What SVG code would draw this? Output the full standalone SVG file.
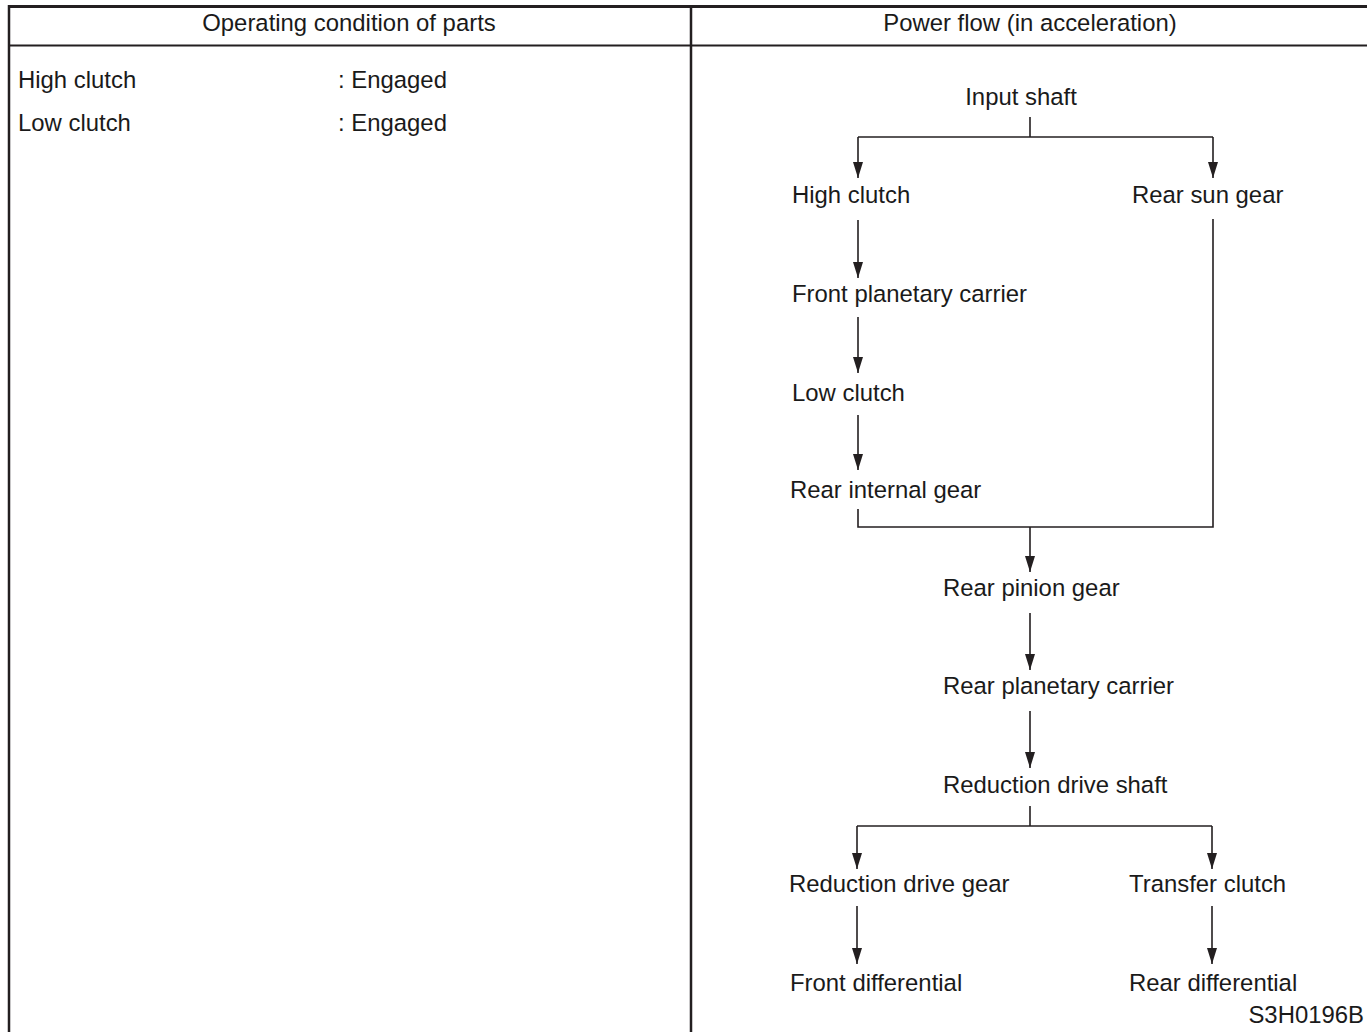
<svg xmlns="http://www.w3.org/2000/svg" width="1367" height="1032" viewBox="0 0 1367 1032">
<defs>
<style>
text{font-family:"Liberation Sans",Arial,sans-serif;font-size:23.9px;fill:#1a1a1a}
.b{stroke:#231f20;fill:none}
.c{stroke:#231f20;stroke-width:1.6;fill:none}
.mid{text-anchor:middle}
</style>
<marker id="ah" markerWidth="16" markerHeight="10" refX="16" refY="5" orient="auto" markerUnits="userSpaceOnUse" viewBox="0 0 16 10">
<path d="M0,0 L16,5 L0,10 Z" fill="#231f20"/>
</marker>
</defs>
<rect width="1367" height="1032" fill="#fff"/>
<g id="table">
<line class="b" x1="8" y1="6.5" x2="1367" y2="6.5" stroke-width="3"/>
<line class="b" x1="8" y1="45.5" x2="1367" y2="45.5" stroke-width="2"/>
<line class="b" x1="9" y1="5" x2="9" y2="1032" stroke-width="2.5"/>
<line class="b" x1="691" y1="5" x2="691" y2="1032" stroke-width="2.5"/>
<text class="mid" x="349" y="31">Operating condition of parts</text>
<text class="mid" x="1030" y="31">Power flow (in acceleration)</text>
</g>
<g id="conditions">
<text x="18" y="88">High clutch</text>
<text x="338" y="88">: Engaged</text>
<text x="18" y="131">Low clutch</text>
<text x="338" y="131">: Engaged</text>
</g>
<g id="connectors">
<path class="c" d="M1030,117 V137"/>
<path class="c" d="M858,137 H1213"/>
<path class="c" d="M858,137 V178" marker-end="url(#ah)"/>
<path class="c" d="M1213,137 V178" marker-end="url(#ah)"/>
<path class="c" d="M858,220 V278" marker-end="url(#ah)"/>
<path class="c" d="M858,317 V373" marker-end="url(#ah)"/>
<path class="c" d="M858,415 V470" marker-end="url(#ah)"/>
<path class="c" d="M858,509 V527 H1213 V219"/>
<path class="c" d="M1030,527 V572" marker-end="url(#ah)"/>
<path class="c" d="M1030,613 V670" marker-end="url(#ah)"/>
<path class="c" d="M1030,711 V768" marker-end="url(#ah)"/>
<path class="c" d="M1030,806 V826"/>
<path class="c" d="M857,826 H1212"/>
<path class="c" d="M857,826 V869" marker-end="url(#ah)"/>
<path class="c" d="M1212,826 V869" marker-end="url(#ah)"/>
<path class="c" d="M857,906 V964" marker-end="url(#ah)"/>
<path class="c" d="M1212,906 V964" marker-end="url(#ah)"/>
</g>
<g id="n-input"><text class="mid" x="1021" y="105">Input shaft</text></g>
<g id="n-highclutch"><text x="792" y="203">High clutch</text></g>
<g id="n-rearsun"><text x="1132" y="203">Rear sun gear</text></g>
<g id="n-frontcarrier"><text x="792" y="302">Front planetary carrier</text></g>
<g id="n-lowclutch"><text x="792" y="401">Low clutch</text></g>
<g id="n-rearinternal"><text x="790" y="498">Rear internal gear</text></g>
<g id="n-rearpinion"><text x="943" y="596">Rear pinion gear</text></g>
<g id="n-rearcarrier"><text x="943" y="694">Rear planetary carrier</text></g>
<g id="n-redshaft"><text x="943" y="793">Reduction drive shaft</text></g>
<g id="n-redgear"><text x="789" y="892">Reduction drive gear</text></g>
<g id="n-transfer"><text x="1129" y="892">Transfer clutch</text></g>
<g id="n-frontdiff"><text x="790" y="991">Front differential</text></g>
<g id="n-reardiff"><text x="1129" y="991">Rear differential</text></g>
<g id="code"><text x="1364" y="1023" text-anchor="end">S3H0196B</text></g>
</svg>
